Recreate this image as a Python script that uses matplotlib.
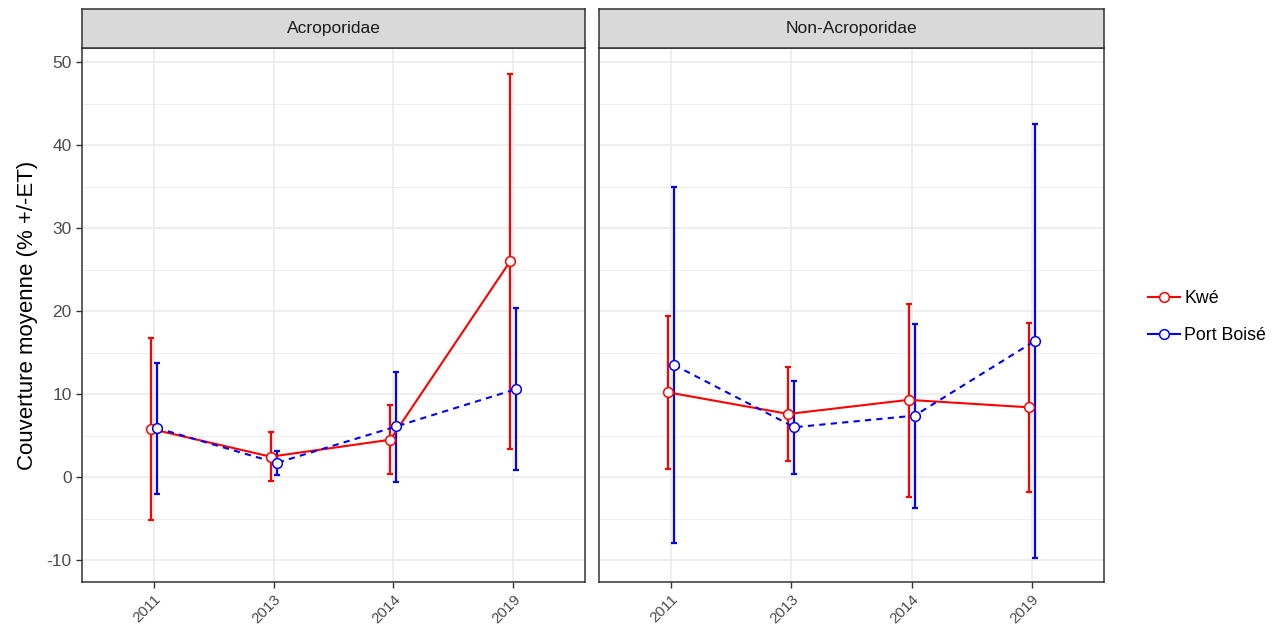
import matplotlib
matplotlib.use("Agg")
import matplotlib.pyplot as plt
from matplotlib.ticker import MultipleLocator
from matplotlib.lines import Line2D
import numpy as np

plt.rcParams['font.family'] = ['Liberation Sans', 'DejaVu Sans']
plt.rcParams['axes.unicode_minus'] = False

years = ['2011', '2013', '2014', '2019']
panels = ['Acroporidae', 'Non-Acroporidae']
sites = ['Kwé', 'Port Boisé']

# moyenne, borne haute, borne basse (% de couverture)
kwe_acro_mean = [5.8, 2.45, 4.5, 26.0]
kwe_acro_hi = [16.8, 5.4, 8.7, 48.55]
kwe_acro_lo = [-5.2, -0.5, 0.4, 3.4]
pb_acro_mean = [5.9, 1.7, 6.1, 10.6]
pb_acro_hi = [13.8, 3.1, 12.7, 20.4]
pb_acro_lo = [-2.05, 0.3, -0.65, 0.9]

kwe_non_mean = [10.2, 7.6, 9.3, 8.4]
kwe_non_hi = [19.4, 13.2, 20.9, 18.6]
kwe_non_lo = [1.0, 1.9, -2.4, -1.85]
pb_non_mean = [13.5, 6.0, 7.4, 16.4]
pb_non_hi = [34.9, 11.6, 18.5, 42.6]
pb_non_lo = [-7.9, 0.36, -3.7, -9.75]

data = {
    'Acroporidae': {
        'Kwé': (kwe_acro_mean, kwe_acro_hi, kwe_acro_lo),
        'Port Boisé': (pb_acro_mean, pb_acro_hi, pb_acro_lo),
    },
    'Non-Acroporidae': {
        'Kwé': (kwe_non_mean, kwe_non_hi, kwe_non_lo),
        'Port Boisé': (pb_non_mean, pb_non_hi, pb_non_lo),
    },
}

colors = {'Kwé': '#FF0000', 'Port Boisé': '#0000FF'}
styles = {'Kwé': '-', 'Port Boisé': (0, (3, 2.5))}
dodge = {'Kwé': -0.025, 'Port Boisé': 0.025}

W, H = 1288, 639
fig = plt.figure(figsize=(W / 100, H / 100), dpi=100)

def box(x0, y0, x1, y1):
    return [x0 / W, 1 - y1 / H, (x1 - x0) / W, (y1 - y0) / H]

panel_px = [(82, 585), (599, 1104)]
top_px, bot_px, strip_top = 48, 582, 9

x = np.arange(1, len(years) + 1)
for i, name in enumerate(panels):
    x0, x1 = panel_px[i]
    ax = fig.add_axes(box(x0, top_px, x1, bot_px))
    for site in sites:
        m, hi, lo = data[name][site]
        m, hi, lo = np.array(m), np.array(hi), np.array(lo)
        xs = x + dodge[site]
        c = colors[site]
        ax.errorbar(xs, m, yerr=[m - lo, hi - m], fmt='none', ecolor=c,
                    elinewidth=1.6, capsize=2.2, capthick=1.6, zorder=3)
        ax.plot(xs, m, color=c, linestyle=styles[site], lw=1.5, zorder=4)
        ax.plot(xs, m, 'o', ms=7, mfc='white', mec=c, mew=1.1, zorder=5)

    ax.set_xlim(0.4, 4.6)
    ax.set_ylim(-12.65, 51.7)
    ax.set_xticks(x)
    ax.set_xticklabels(years, rotation=45, ha='right', rotation_mode='anchor',
                       color='#4D4D4D')
    ax.yaxis.set_major_locator(MultipleLocator(10))
    ax.yaxis.set_minor_locator(MultipleLocator(5))
    ax.grid(True, which='major', color='#EBEBEB', lw=1.2, zorder=0)
    ax.grid(True, which='minor', axis='y', color='#EBEBEB', lw=0.6, zorder=0)
    ax.set_axisbelow(True)
    ax.tick_params(axis='both', which='major', length=4, width=1,
                   color='#333333', labelsize=12.5, labelcolor='#4D4D4D')
    ax.tick_params(axis='x', labelsize=11, pad=3)
    ax.tick_params(which='minor', length=0)
    for s in ax.spines.values():
        s.set_color('#333333')
        s.set_linewidth(1.1)
    if i == 0:
        ax.set_ylabel('Couverture moyenne (% +/-ET)', fontsize=16, labelpad=6)
    else:
        ax.set_yticklabels([])
        ax.tick_params(axis='y', length=0)

    # bandeau de facette
    sax = fig.add_axes(box(x0, strip_top, x1, top_px))
    sax.set_facecolor('#D9D9D9')
    sax.set_xticks([])
    sax.set_yticks([])
    for s in sax.spines.values():
        s.set_color('#333333')
        s.set_linewidth(1.1)
    sax.text(0.5, 0.5, name, ha='center', va='center', fontsize=12.5,
             color='#1A1A1A', transform=sax.transAxes)

handles = [Line2D([0], [0], color=colors[s], lw=1.5, marker='o', ms=7,
                  mfc='white', mec=colors[s], mew=1.1) for s in sites]
fig.legend(handles, sites, loc='center left', bbox_to_anchor=(1132 / W, 1 - 317 / H),
           frameon=False, fontsize=12.8, handlelength=1.8, handletextpad=0.25,
           labelspacing=1.15)

fig.savefig('out.png', dpi=100)
